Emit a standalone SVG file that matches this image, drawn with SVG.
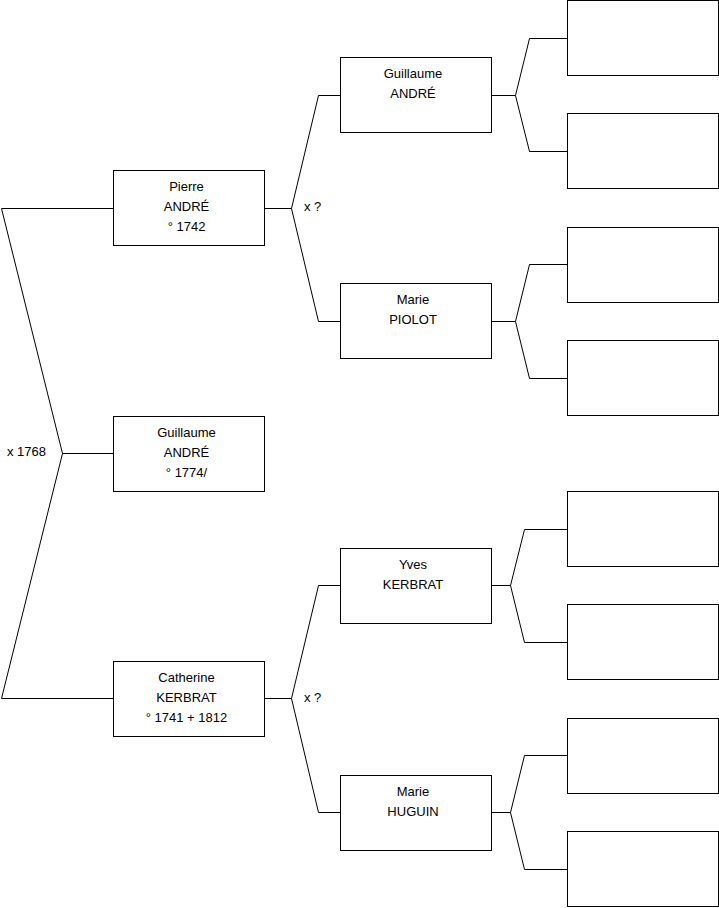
<svg xmlns="http://www.w3.org/2000/svg" width="719" height="908" viewBox="0 0 719 908">
<style>
.box{fill:#fff;stroke:#000;stroke-width:1}
.ln{fill:none;stroke:#000;stroke-width:1}
text{font-family:"Liberation Sans",Arial,sans-serif;font-size:13px;fill:#000}
.c{text-anchor:middle}
</style>
<rect width="719" height="908" fill="#fff"/>
<g id="connectors">
<polyline class="ln" points="113.5,208.5 1.5,208.5 62.5,453.5 1.5,698.5 113.5,698.5"/>
<line class="ln" x1="62.5" y1="453.5" x2="113.5" y2="453.5"/>
<polyline class="ln" points="265,208.5 291.5,208.5"/>
<polyline class="ln" points="341,95.5 318.5,95.5 291.5,208.5 318.5,321.5 341,321.5"/>
<polyline class="ln" points="265,698.5 291.5,698.5"/>
<polyline class="ln" points="341,585.5 318.5,585.5 291.5,698.5 318.5,812.5 341,812.5"/>
<polyline class="ln" points="492,95.5 515.5,95.5"/>
<polyline class="ln" points="567,38.5 529.5,38.5 515.5,95.5 529.5,151.5 567,151.5"/>
<polyline class="ln" points="492,321.5 515.5,321.5"/>
<polyline class="ln" points="567,264.5 529.5,264.5 515.5,321.5 529.5,378.5 567,378.5"/>
<polyline class="ln" points="492,585.5 510.5,585.5"/>
<polyline class="ln" points="567,529.5 524.5,529.5 510.5,585.5 524.5,642.5 567,642.5"/>
<polyline class="ln" points="492,812.5 510.5,812.5"/>
<polyline class="ln" points="567,755.5 524.5,755.5 510.5,812.5 524.5,869.5 567,869.5"/>
<text x="7" y="455.5">x 1768</text>
<text x="304" y="211">x ?</text>
<text x="304" y="701.5">x ?</text>
</g>
<g id="pierre">
<rect class="box" x="113.5" y="170.5" width="151" height="75"/>
<text class="c" x="186.5" y="190.5">Pierre</text>
<text class="c" x="186.5" y="210.5">ANDRÉ</text>
<text class="c" x="186.5" y="230.5">° 1742</text>
</g>
<g id="guillaume-child">
<rect class="box" x="113.5" y="416.5" width="151" height="75"/>
<text class="c" x="186.5" y="436.5">Guillaume</text>
<text class="c" x="186.5" y="456.5">ANDRÉ</text>
<text class="c" x="186.5" y="476.5">° 1774/</text>
</g>
<g id="catherine">
<rect class="box" x="113.5" y="661.5" width="151" height="75"/>
<text class="c" x="186.5" y="681.5">Catherine</text>
<text class="c" x="186.5" y="701.5">KERBRAT</text>
<text class="c" x="186.5" y="721.5">° 1741 + 1812</text>
</g>
<g id="guillaume-father">
<rect class="box" x="340.5" y="57.5" width="151" height="75"/>
<text class="c" x="413" y="77.5">Guillaume</text>
<text class="c" x="413" y="97.5">ANDRÉ</text>
</g>
<g id="marie-piolot">
<rect class="box" x="340.5" y="283.5" width="151" height="75"/>
<text class="c" x="413" y="303.5">Marie</text>
<text class="c" x="413" y="323.5">PIOLOT</text>
</g>
<g id="yves">
<rect class="box" x="340.5" y="548.5" width="151" height="75"/>
<text class="c" x="413" y="568.5">Yves</text>
<text class="c" x="413" y="588.5">KERBRAT</text>
</g>
<g id="marie-huguin">
<rect class="box" x="340.5" y="775.5" width="151" height="75"/>
<text class="c" x="413" y="795.5">Marie</text>
<text class="c" x="413" y="815.5">HUGUIN</text>
</g>
<g id="gp1"><rect class="box" x="567.5" y="0.5" width="151" height="75"/></g>
<g id="gp2"><rect class="box" x="567.5" y="113.5" width="151" height="75"/></g>
<g id="gp3"><rect class="box" x="567.5" y="227.5" width="151" height="75"/></g>
<g id="gp4"><rect class="box" x="567.5" y="340.5" width="151" height="75"/></g>
<g id="gp5"><rect class="box" x="567.5" y="491.5" width="151" height="75"/></g>
<g id="gp6"><rect class="box" x="567.5" y="604.5" width="151" height="75"/></g>
<g id="gp7"><rect class="box" x="567.5" y="718.5" width="151" height="75"/></g>
<g id="gp8"><rect class="box" x="567.5" y="831.5" width="151" height="75"/></g>
</svg>
